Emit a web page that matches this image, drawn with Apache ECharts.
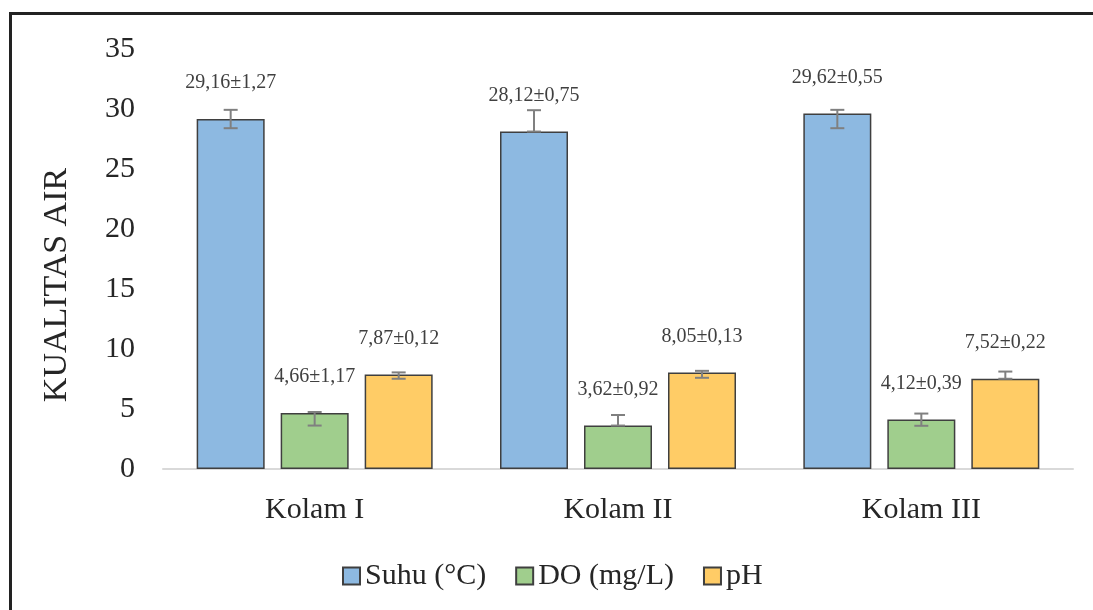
<!DOCTYPE html>
<html>
<head>
<meta charset="utf-8">
<script src="https://cdn.jsdelivr.net/npm/echarts@6/dist/echarts.min.js"></script>
<style>
  html, body { margin: 0; padding: 0; background: #ffffff; }
  #chart { width: 1093px; height: 610px; }
</style>
</head>
<body>
<div id="chart"></div>
<script>
const categories = ['Kolam I', 'Kolam II', 'Kolam III'];
const seriesNames = ['Suhu (°C)', 'DO (mg/L)', 'pH'];
const suhu = [29.16, 28.12, 29.62];
const suhuSD = [1.27, 0.75, 0.55];
const doVal = [4.66, 3.62, 4.12];
const doSD = [1.17, 0.92, 0.39];
const ph = [7.87, 8.05, 7.52];
const phSD = [0.12, 0.13, 0.22];
// error bar extents as drawn in the picture
const suhuErrLow = [28.4, 28.12, 28.4];
const suhuErrHigh = [29.93, 29.9, 29.93];
const doErrLow = [3.62, 3.62, 3.6];
const doErrHigh = [4.75, 4.5, 4.62];
const phErrLow = [7.52, 7.6, 7.52];
const phErrHigh = [8.05, 8.18, 8.12];
const yTicks = [0, 5, 10, 15, 20, 25, 30, 35];

const values = [suhu, doVal, ph];
const sds = [suhuSD, doSD, phSD];
const errLow = [suhuErrLow, doErrLow, phErrLow];
const errHigh = [suhuErrHigh, doErrHigh, phErrHigh];
const colors = ['#8DB9E1', '#A0CE8D', '#FFCC66'];

const BAR_W = 68;
const BAR_GAP = 16;

function fmt(v) { return v.toFixed(2).replace('.', ','); }

const chart = echarts.init(document.getElementById('chart'));

const barSeries = seriesNames.map((name, s) => ({
  name: name,
  type: 'bar',
  data: values[s],
  barWidth: BAR_W,
  barGap: (BAR_GAP / BAR_W * 100) + '%',
  itemStyle: { color: colors[s], borderColor: '#3F3F3F', borderWidth: 1.5 },
  label: {
    show: true,
    position: 'top',
    distance: 26,
    fontFamily: 'Liberation Serif',
    fontSize: 20,
    color: '#404040',
    formatter: (p) => fmt(values[s][p.dataIndex]) + '±' + fmt(sds[s][p.dataIndex])
  },
  emphasis: { disabled: true },
  z: 2
}));

const errSeries = seriesNames.map((name, s) => ({
  type: 'custom',
  name: name + ' err',
  data: categories.map((c, i) => [i, errLow[s][i], errHigh[s][i]]),
  renderItem: function (params, api) {
    const i = api.value(0);
    const lo = api.coord([i, api.value(1)]);
    const hi = api.coord([i, api.value(2)]);
    const x = lo[0] + (s - 1) * (BAR_W + BAR_GAP);
    const cap = 7;
    const st = { stroke: '#808080', lineWidth: 2 };
    return {
      type: 'group',
      children: [
        { type: 'line', shape: { x1: x, y1: lo[1], x2: x, y2: hi[1] }, style: st },
        { type: 'line', shape: { x1: x - cap, y1: lo[1], x2: x + cap, y2: lo[1] }, style: st },
        { type: 'line', shape: { x1: x - cap, y1: hi[1], x2: x + cap, y2: hi[1] }, style: st }
      ]
    };
  },
  encode: { x: 0, y: [1, 2] },
  silent: true,
  z: 5
}));

chart.setOption({
  animation: false,
  backgroundColor: '#ffffff',
  graphic: [{
    type: 'rect',
    shape: { x: 10.5, y: 13.5, width: 1300, height: 800 },
    style: { fill: 'none', stroke: '#222222', lineWidth: 3 },
    silent: true
  }],
  grid: { left: 163, right: 20, top: 49, bottom: 141, containLabel: false },
  legend: {
    data: seriesNames,
    left: 337,
    top: 556,
    itemWidth: 17,
    itemHeight: 17,
    itemGap: 29,
    icon: 'rect',
    textStyle: { fontFamily: 'Liberation Serif', fontSize: 30, color: '#262626' }
  },
  xAxis: {
    type: 'category',
    data: categories,
    axisLine: { lineStyle: { color: '#D9D9D9', width: 2 } },
    axisTick: { show: false },
    axisLabel: { fontFamily: 'Liberation Serif', fontSize: 30, color: '#262626', margin: 26 }
  },
  yAxis: {
    type: 'value',
    min: yTicks[0],
    max: yTicks[yTicks.length - 1],
    interval: yTicks[1] - yTicks[0],
    name: 'KUALITAS AIR',
    nameLocation: 'middle',
    nameRotate: 90,
    nameGap: 89,
    nameTextStyle: { fontFamily: 'Liberation Serif', fontSize: 34, color: '#262626', padding: [0, 52, 0, 0] },
    axisLine: { show: false },
    axisTick: { show: false },
    splitLine: { show: false },
    axisLabel: { fontFamily: 'Liberation Serif', fontSize: 30, color: '#262626', margin: 28 }
  },
  series: barSeries.concat(errSeries)
});
</script>
</body>
</html>
